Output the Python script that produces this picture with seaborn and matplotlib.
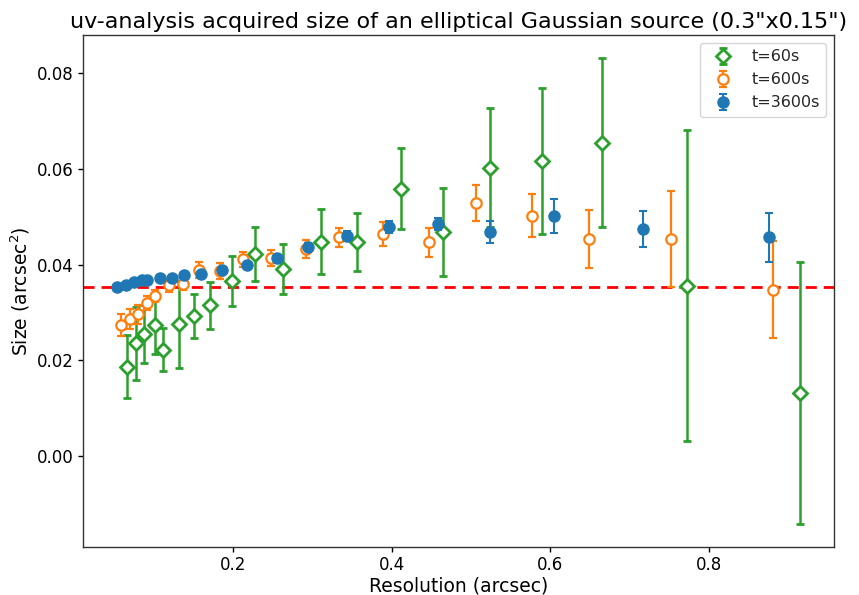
import matplotlib
matplotlib.use("Agg")
import matplotlib.pyplot as plt
import seaborn as sns
import numpy as np

# ---- data ----
res_60 = [0.0669, 0.0775, 0.0879, 0.1014, 0.1123, 0.1320, 0.1517, 0.1715, 0.1984, 0.2278,
          0.2627, 0.3105, 0.3559, 0.4113, 0.4642, 0.5238, 0.5897, 0.6645, 0.7724, 0.9143]
size_60 = [0.0187, 0.0236, 0.0255, 0.0274, 0.0222, 0.0275, 0.0293, 0.0315, 0.0366, 0.0422,
           0.0391, 0.0448, 0.0448, 0.0559, 0.0469, 0.0603, 0.0617, 0.0655, 0.0356, 0.0132]
err_60 = [0.0066, 0.0076, 0.0061, 0.0060, 0.0045, 0.0090, 0.0046, 0.0049, 0.0052, 0.0057,
          0.0053, 0.0068, 0.0061, 0.0085, 0.0092, 0.0124, 0.0152, 0.0177, 0.0325, 0.0273]

res_600 = [0.0593, 0.0703, 0.0804, 0.0921, 0.1014, 0.1198, 0.1367, 0.1572, 0.1836, 0.2122,
           0.2475, 0.2920, 0.3340, 0.3886, 0.4473, 0.5062, 0.5763, 0.6489, 0.7515, 0.8807]
size_600 = [0.0274, 0.0286, 0.0296, 0.0320, 0.0335, 0.0357, 0.0360, 0.0389, 0.0387, 0.0411,
            0.0414, 0.0433, 0.0457, 0.0464, 0.0447, 0.0529, 0.0502, 0.0454, 0.0454, 0.0348]
err_600 = [0.0022, 0.0021, 0.0019, 0.0014, 0.0012, 0.0014, 0.0012, 0.0016, 0.0016, 0.0016,
           0.0017, 0.0018, 0.0020, 0.0025, 0.0030, 0.0038, 0.0045, 0.0061, 0.0100, 0.0102]

res_3600 = [0.0543, 0.0649, 0.0753, 0.0858, 0.0921, 0.1080, 0.1236, 0.1383, 0.1594, 0.1858,
            0.2173, 0.2551, 0.2949, 0.3433, 0.3970, 0.4587, 0.5238, 0.6048, 0.7170, 0.8757]
size_3600 = [0.0354, 0.0357, 0.0364, 0.0369, 0.0368, 0.0373, 0.0372, 0.0378, 0.0380, 0.0389,
             0.0399, 0.0413, 0.0437, 0.0460, 0.0479, 0.0485, 0.0468, 0.0502, 0.0474, 0.0457]
err_3600 = [0.0005, 0.0005, 0.0005, 0.0005, 0.0005, 0.0005, 0.0005, 0.0005, 0.0006, 0.0006,
            0.0006, 0.0006, 0.0009, 0.0010, 0.0012, 0.0013, 0.0023, 0.0036, 0.0038, 0.0052]

true_size = 0.0353
labels = ["t=60s", "t=600s", "t=3600s"]

# ---- style ----
sns.set_theme(style="ticks")
plt.rcParams["font.family"] = ["DejaVu Sans"]
pal = sns.color_palette("tab10")
c_blue, c_orange, c_green = pal[0], pal[1], pal[2]

fig = plt.figure(figsize=(8.59, 5.95), dpi=100)
ax = fig.add_axes([83 / 859, 1 - 547 / 595, (834 - 83) / 859, (547 - 35) / 595])

ax.axhline(true_size, color="red", ls="--", lw=2, zorder=1, dashes=(4, 2.5))

ax.errorbar(res_60, size_60, yerr=err_60, fmt="D", ms=7.5, mfc="white", mec=c_green,
            mew=2, color=c_green, ecolor=c_green, elinewidth=1.8, capsize=3, capthick=2,
            label=labels[0], zorder=2)
ax.errorbar(res_600, size_600, yerr=err_600, fmt="o", ms=7.5, mfc="white", mec=c_orange,
            mew=1.6, color=c_orange, ecolor=c_orange, elinewidth=1.6, capsize=3, capthick=1.8,
            label=labels[1], zorder=3)
ax.errorbar(res_3600, size_3600, yerr=err_3600, fmt="o", ms=8, mfc=c_blue, mec=c_blue,
            color=c_blue, ecolor=c_blue, elinewidth=1.5, capsize=3, capthick=1.5,
            label=labels[2], zorder=4)

ax.set_xlim(0.0113, 0.957)
ax.set_ylim(-0.019, 0.088)
ax.set_xticks([0.2, 0.4, 0.6, 0.8])
ax.set_yticks([0.00, 0.02, 0.04, 0.06, 0.08])
ax.set_xticklabels(["0.2", "0.4", "0.6", "0.8"])
ax.set_yticklabels(["0.00", "0.02", "0.04", "0.06", "0.08"])

for s in ax.spines.values():
    s.set_color("#333333")
    s.set_linewidth(1.0)
ax.tick_params(axis="both", labelsize=12, colors="black", length=3.5, width=1, pad=3)

ax.set_xlabel("Resolution (arcsec)", fontsize=13.5, color="black", labelpad=2)
ax.set_ylabel("Size (arcsec$^2$)", fontsize=13.5, color="black", labelpad=4)
ax.set_title("uv-analysis acquired size of an elliptical Gaussian source (0.3\"x0.15\")",
             fontsize=16, color="black", pad=5)

leg = ax.legend(loc="upper right", fontsize=11.5, frameon=True, fancybox=True)
leg.get_frame().set_edgecolor("#cccccc")

fig.savefig("out.png", dpi=100)
